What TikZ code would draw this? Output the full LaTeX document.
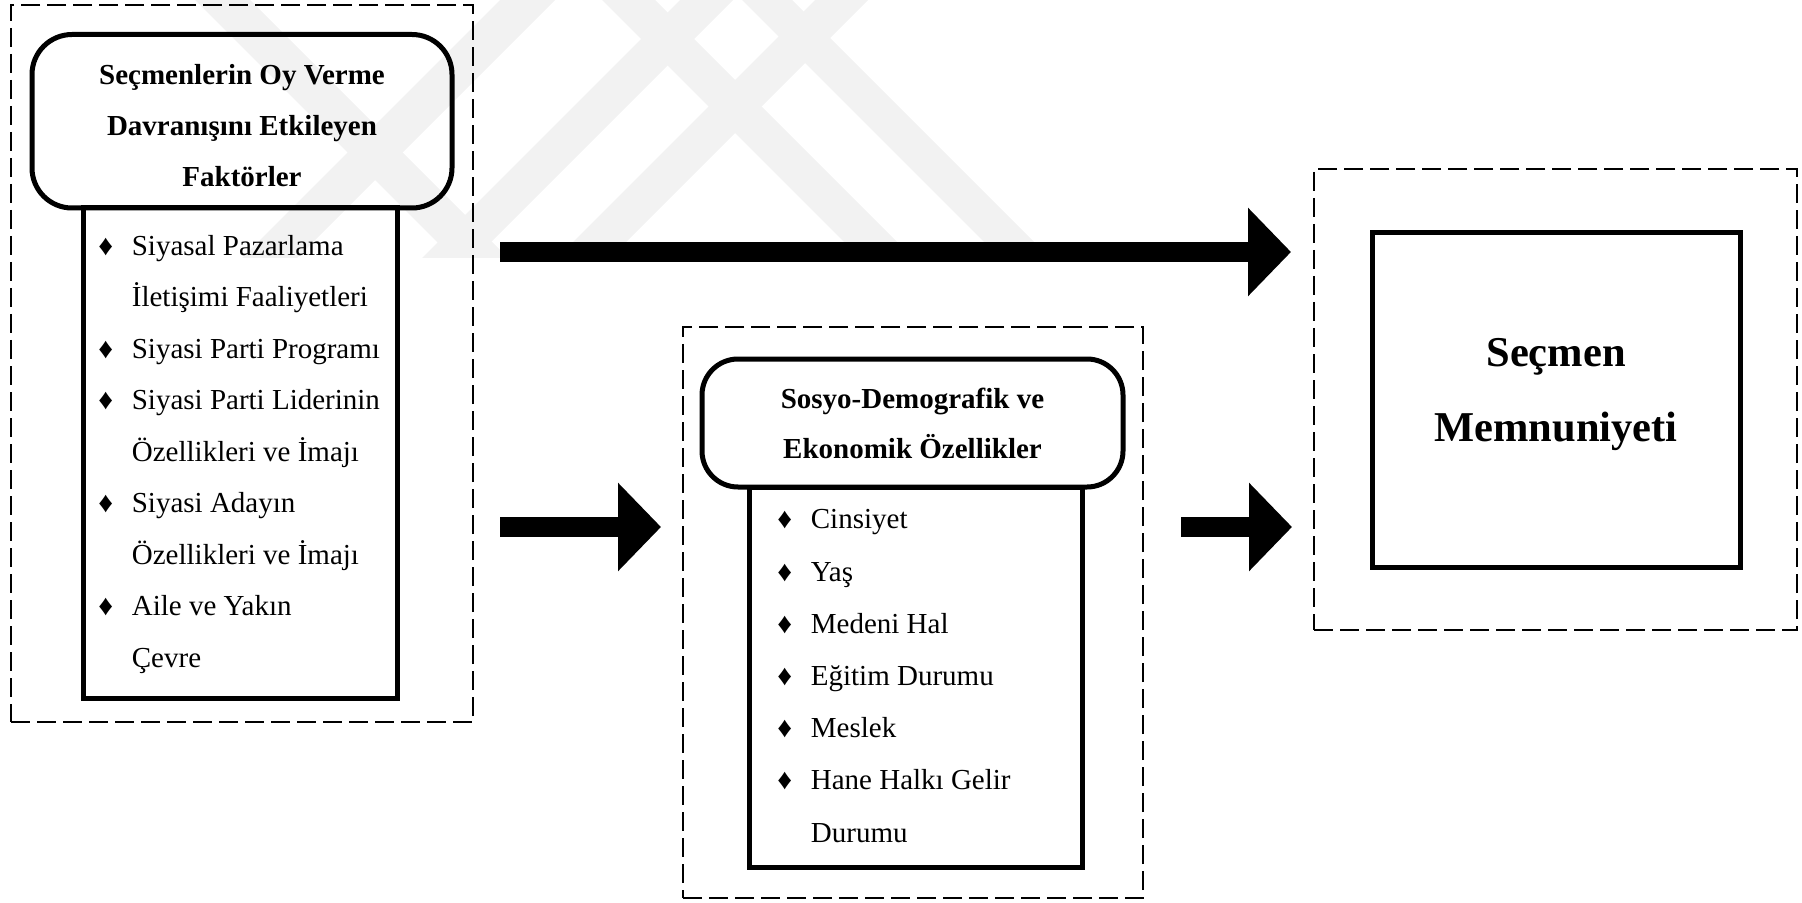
\documentclass[tikz,border=0pt]{standalone}
\usepackage{fontspec}
\setmainfont{Liberation Serif}
\usetikzlibrary{arrows.meta,calc}

% list bullet with a fixed indent, and the matching indent for wrapped lines
\newcommand\itembullet{\makebox[16.75pt][l]{♦}}
\newcommand\wrapindent{\hspace*{16.75pt}}

\begin{document}
\begin{tikzpicture}[x=0.5pt,y=-0.5pt,
  groupframe/.style={draw, dash pattern=on 9.5pt off 3.5pt, line width=1.25pt,
    inner sep=0pt, outer sep=0pt},
  headbox/.style={draw, line width=2.5pt, rounded corners=20pt, inner sep=0pt,
    align=center, font=\bfseries\fontsize{14.5}{25}\selectfont},
  headtext/.style={inner sep=0pt, align=center, font=\bfseries\fontsize{14.5}{25.5}\selectfont},
  listbox/.style={draw, line width=2.5pt, inner sep=0pt},
  itemlist/.style={anchor=west, inner sep=0pt, font=\fontsize{14.5}{25.75}\selectfont},
  resultbox/.style={draw, line width=2.5pt, inner sep=0pt},
  bigarrow/.style={line width=10pt, -{Triangle[length=21.5pt,width=43pt]}},
  wmband/.style={fill=black!5}
]
\useasboundingbox (0,0) rectangle (1802,903);

% faint background emblem made of diagonal bands
\begin{scope}
  \clip (150,0) rectangle (1100,258);
  % bands falling to the right
  \fill[wmband] (175,-20) -- (230,-20) -- (550,300) -- (495,300) -- cycle;
  \fill[wmband] (582,-20) -- (635,-20) -- (955,300) -- (902,300) -- cycle;
  \fill[wmband] (722,-20) -- (772,-20) -- (1092,300) -- (1042,300) -- cycle;
  % bands rising to the right
  \fill[wmband] (520,-20) -- (575,-20) -- (255,300) -- (200,300) -- cycle;
  \fill[wmband] (700,-20) -- (753,-20) -- (433,300) -- (380,300) -- cycle;
  \fill[wmband] (835,-20) -- (888,-20) -- (568,300) -- (515,300) -- cycle;
\end{scope}

% left group: factors of voting behaviour
\node[groupframe, minimum width=231pt, minimum height=358.5pt] (leftdash) at (242,363.5) {};
\node[listbox, minimum width=157pt, minimum height=245pt] (leftlist) at (240,453) {};
\node[headbox, minimum width=210pt, minimum height=86.75pt] (lefttitle) at (242,121.25) {};
\node[headtext] (lefttitletext) at (242,125.3)
  {\strut Seçmenlerin Oy Verme\\Davranışını Etkileyen\\Faktörler\strut};
\node[itemlist] (leftitems) at (98,450.75) {%
  \begin{tabular}{@{}l@{}}
  \itembullet Siyasal Pazarlama\\
  \wrapindent İletişimi Faaliyetleri\\
  \itembullet Siyasi Parti Programı\\
  \itembullet Siyasi Parti Liderinin\\
  \wrapindent Özellikleri ve İmajı\\
  \itembullet Siyasi Adayın\\
  \wrapindent Özellikleri ve İmajı\\
  \itembullet Aile ve Yakın\\
  \wrapindent Çevre
  \end{tabular}};

% middle group: socio-demographic and economic characteristics
\node[groupframe, minimum width=230pt, minimum height=285.5pt] (middash) at (913,612.5) {};
\node[listbox, minimum width=166.5pt, minimum height=190pt] (midlist) at (915.5,677) {};
\node[headbox, rounded corners=18pt, minimum width=210.5pt, minimum height=64pt] (midtitle) at (912.5,423)
  {Sosyo-Demografik ve\\Ekonomik Özellikler};
\node[itemlist, font=\fontsize{14.5}{26.1}\selectfont] (miditems) at (777,675.1) {%
  \begin{tabular}{@{}l@{}}
  \itembullet Cinsiyet\\
  \itembullet Yaş\\
  \itembullet Medeni Hal\\
  \itembullet Eğitim Durumu\\
  \itembullet Meslek\\
  \itembullet Hane Halkı Gelir\\
  \wrapindent Durumu
  \end{tabular}};

% right group: voter satisfaction
\node[groupframe, minimum width=241.5pt, minimum height=230.5pt] (rightdash) at (1555.5,399.5) {};
\node[resultbox, minimum width=184pt, minimum height=167pt] (target) at (1556,400) {};
\node[align=center, inner sep=0pt, font=\bfseries\fontsize{21.25}{37.5}\selectfont]
  (targetlabel) at (1556,394.5) {Seçmen\\Memnuniyeti};

% connectors
\coordinate (toprow) at (0,252);
\coordinate (lowrow) at (0,527);
\draw[bigarrow] ($(leftdash.east |- toprow)+(27,0)$) -- ($(rightdash.west |- toprow)+(-23,0)$);
\draw[bigarrow] ($(leftdash.east |- lowrow)+(27,0)$) -- ($(middash.west |- lowrow)+(-22,0)$);
\draw[bigarrow] ($(middash.east |- lowrow)+(38,0)$) -- ($(rightdash.west |- lowrow)+(-22,0)$);
\end{tikzpicture}
\end{document}
